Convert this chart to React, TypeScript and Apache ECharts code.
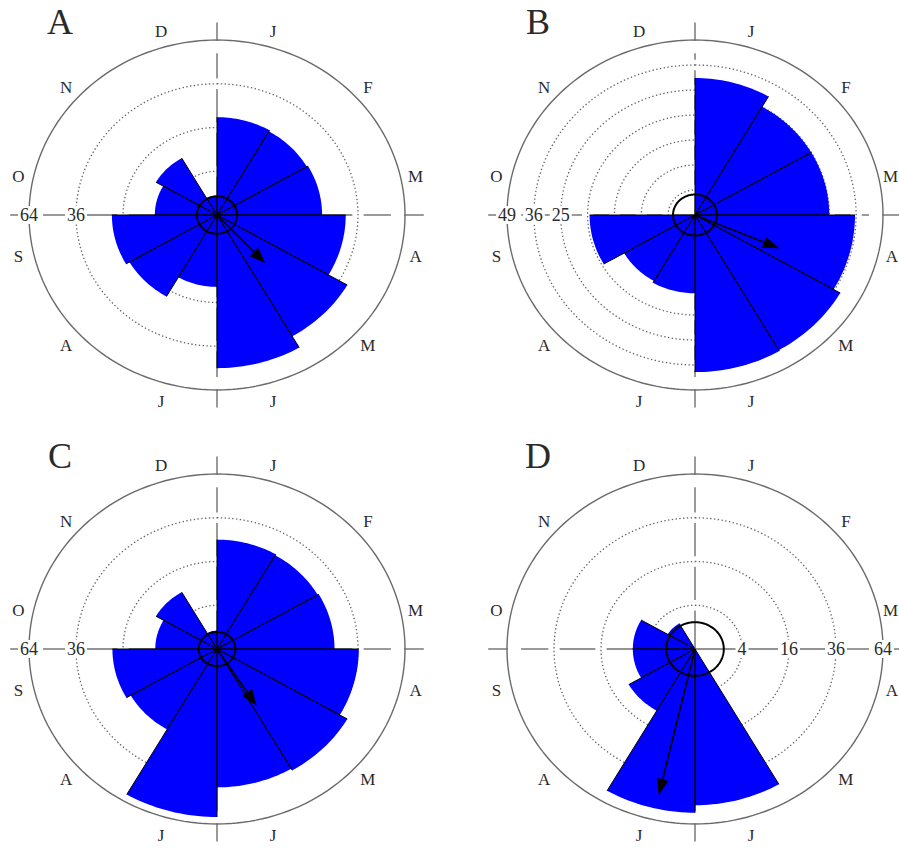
import React, { useEffect, useRef } from 'react';
import * as echarts from 'echarts';

// ---------- data ----------
const months = ['J', 'F', 'M', 'A', 'M', 'J', 'J', 'A', 'S', 'O', 'N', 'D'];
const panelLetters = ['A', 'B', 'C', 'D'];

const countsA = [20, 19.5, 20, 30, 41, 49, 10.8, 18.5, 20, 7, 9, 0.7];
const countsB = [30, 25, 25, 35.5, 39, 39.5, 9.8, 9.3, 15.4, 0, 0, 0];
const countsC = [25, 24.5, 25, 36.4, 41, 40, 59, 18, 19.8, 6.9, 9, 0.7];
const countsD = [0, 0, 0, 0, 0, 51, 56, 10.6, 7, 7, 1.8, 0];

const radialMax = [64, 49, 64, 64];
const ringValuesA = [4, 16, 36];
const ringValuesB = [1, 4, 9, 16, 25, 36];
const ringValuesC = [4, 16, 36];
const ringValuesD = [4, 16, 36];

const tickLabelsA = [64, 36];
const tickLabelsB = [49, 36, 25];
const tickLabelsC = [64, 36];
const tickLabelsD = [4, 16, 36, 64];
const tickSideAngle = [270, 270, 270, 90];

const meanAngle = [137, 113, 147, 193];
const meanLength = [9.0, 11.5, 9.5, 46.9];
const confidenceRadius = [0.73, 0.67, 0.61, 1.5];

// ---------- layout ----------
const PANEL_CENTERS = [
  [217, 215],
  [695, 215],
  [217, 649],
  [695, 649],
];
const RX = 188;
const RY = 175;
const PAGE_W = 899;
const SERIF = '"Liberation Serif", "DejaVu Serif", serif';

function buildOption() {
  const countsAll = [countsA, countsB, countsC, countsD];
  const ringsAll = [ringValuesA, ringValuesB, ringValuesC, ringValuesD];
  const ticksAll = [tickLabelsA, tickLabelsB, tickLabelsC, tickLabelsD];

  const grid: any[] = [];
  const xAxis: any[] = [];
  const yAxis: any[] = [];
  const series: any[] = [];

  for (let p = 0; p < 4; p++) {
    const R = Math.sqrt(radialMax[p]);
    const [cx, cy] = PANEL_CENTERS[p];
    grid.push({ left: cx - RX, top: cy - RY, width: 2 * RX, height: 2 * RY });
    xAxis.push({ type: 'value', gridIndex: p, min: -R, max: R, show: false });
    yAxis.push({ type: 'value', gridIndex: p, min: -R, max: R, show: false });

    const pt = (api: any, r: number, deg: number) => {
      const t = (deg * Math.PI) / 180;
      return api.coord([r * Math.sin(t), r * Math.cos(t)]);
    };
    const ellipse = (api: any, r: number) => {
      const pts: number[][] = [];
      for (let k = 0; k <= 180; k++) pts.push(pt(api, r, k * 2));
      return pts;
    };
    const lineEl = (a: number[], b: number[], style: any, z2 = 0) => ({
      type: 'line',
      z2,
      shape: { x1: a[0], y1: a[1], x2: b[0], y2: b[1] },
      style,
    });

    // frame: rings, outer circle, crosshair
    series.push({
      type: 'custom',
      xAxisIndex: p,
      yAxisIndex: p,
      z: 1,
      clip: false,
      silent: true,
      data: [[0, 0]],
      renderItem: (_params: any, api: any) => {
        const children: any[] = [];
        ringsAll[p].forEach((v) => {
          children.push({
            type: 'polyline',
            shape: { points: ellipse(api, Math.sqrt(v)) },
            style: { stroke: '#666', fill: 'none', lineWidth: 1.3, lineDash: [1.4, 2.4] },
          });
        });
        children.push({
          type: 'polyline',
          shape: { points: ellipse(api, R) },
          style: { stroke: '#6a6a6a', fill: 'none', lineWidth: 1.4 },
        });
        const gaps = ringsAll[p].map((v) => [Math.sqrt(v) / R - 0.03, Math.sqrt(v) / R + 0.03]);
        gaps.push([0.925, 0.995]);
        gaps.sort((a, b) => a[0] - b[0]);
        const segs: number[][] = [];
        let s = 0;
        gaps.forEach((g) => {
          if (g[0] > s) segs.push([s, g[0]]);
          s = Math.max(s, g[1]);
        });
        segs.push([s, 1.1]);
        [0, 90, 180, 270].forEach((d) =>
          segs.forEach(([a, b]) => {
            children.push(
              lineEl(pt(api, a * R, d), pt(api, b * R, d), { stroke: '#6f6f6f', lineWidth: 1.4 })
            );
          })
        );
        return { type: 'group', children };
      },
    });

    // bars
    series.push({
      type: 'custom',
      xAxisIndex: p,
      yAxisIndex: p,
      z: 2,
      clip: false,
      silent: true,
      data: countsAll[p].map((v, i) => [i, v]),
      renderItem: (_params: any, api: any) => {
        const i = api.value(0);
        const v = api.value(1);
        if (!(v > 0)) return { type: 'group', children: [] };
        const r = Math.sqrt(v);
        const a0 = i * 30;
        const a1 = a0 + 30;
        const c = pt(api, 0, 0);
        const pts = [c];
        for (let k = 0; k <= 20; k++) pts.push(pt(api, r, a0 + k * 1.5));
        return {
          type: 'group',
          children: [
            {
              type: 'polygon',
              z2: 0,
              shape: { points: pts },
              style: { fill: '#0000ff', stroke: 'none' },
            },
            lineEl(c, pt(api, r, a0), { stroke: '#000', lineWidth: 1 }, 10),
            lineEl(c, pt(api, r, a1), { stroke: '#000', lineWidth: 1 }, 10),
          ],
        };
      },
    });

    // overlay: confidence circle, mean arrow, labels
    series.push({
      type: 'custom',
      xAxisIndex: p,
      yAxisIndex: p,
      z: 3,
      clip: false,
      silent: true,
      data: [[0, 0]],
      renderItem: (_params: any, api: any) => {
        const children: any[] = [];
        children.push({
          type: 'polyline',
          shape: { points: ellipse(api, Math.sqrt(confidenceRadius[p])) },
          style: { stroke: '#000', fill: 'none', lineWidth: 2 },
        });
        // arrow
        const c = pt(api, 0, 0);
        const tip = pt(api, Math.sqrt(meanLength[p]), meanAngle[p]);
        const dx = tip[0] - c[0];
        const dy = tip[1] - c[1];
        const len = Math.sqrt(dx * dx + dy * dy);
        const ux = dx / len;
        const uy = dy / len;
        const hl = 16;
        const hw = 6;
        const base = [tip[0] - ux * hl, tip[1] - uy * hl];
        children.push(lineEl(c, base, { stroke: '#000', lineWidth: 1.6 }));
        children.push({
          type: 'polygon',
          shape: {
            points: [
              tip,
              [base[0] - uy * hw, base[1] + ux * hw],
              [base[0] + uy * hw, base[1] - ux * hw],
            ],
          },
          style: { fill: '#000' },
        });
        // radial tick labels
        ticksAll[p].forEach((v) => {
          const q = pt(api, Math.sqrt(v), tickSideAngle[p]);
          children.push({
            type: 'text',
            x: q[0],
            y: q[1],
            style: {
              text: String(v),
              font: `18px ${SERIF}`,
              fill: '#2a2a2a',
              align: 'center',
              verticalAlign: 'middle',
              backgroundColor: '#fff',
              padding: [0, 2],
            },
          });
        });
        // month labels
        months.forEach((m, k) => {
          const th = 15 + 30 * k;
          const md = th % 180;
          const off = md === 15 ? 1 : md === 165 ? -1 : md < 90 ? 3 : -3;
          const t = ((th + off) * Math.PI) / 180;
          const q = api.coord([1.08 * R * Math.sin(t), 1.1 * R * Math.cos(t) - 0.01 * R]);
          let x = q[0];
          let align = 'center';
          if (x + 9 > PAGE_W - 1) {
            x = PAGE_W - 1;
            align = 'right';
          }
          children.push({
            type: 'text',
            x,
            y: q[1],
            style: {
              text: m,
              font: `17px ${SERIF}`,
              fill: '#2a2a2a',
              align,
              verticalAlign: 'middle',
            },
          });
        });
        // panel letter
        const lp = api.coord([-0.835 * R, 1.103 * R]);
        children.push({
          type: 'text',
          x: lp[0],
          y: lp[1],
          style: {
            text: panelLetters[p],
            font: `36px ${SERIF}`,
            fill: '#2a2a2a',
            align: 'center',
            verticalAlign: 'middle',
          },
        });
        return { type: 'group', children };
      },
    });
  }

  return {
    animation: false,
    backgroundColor: '#fff',
    grid,
    xAxis,
    yAxis,
    series,
  };
}

export default function App() {
  const ref = useRef<HTMLDivElement>(null);
  useEffect(() => {
    if (!ref.current) return;
    const chart = echarts.init(ref.current, undefined, { renderer: 'svg' });
    chart.setOption(buildOption() as any);
    return () => chart.dispose();
  }, []);
  return (
    <div
      ref={ref}
      style={{ position: 'absolute', left: 0, top: 0, width: 899, height: 848, background: '#fff' }}
    />
  );
}
